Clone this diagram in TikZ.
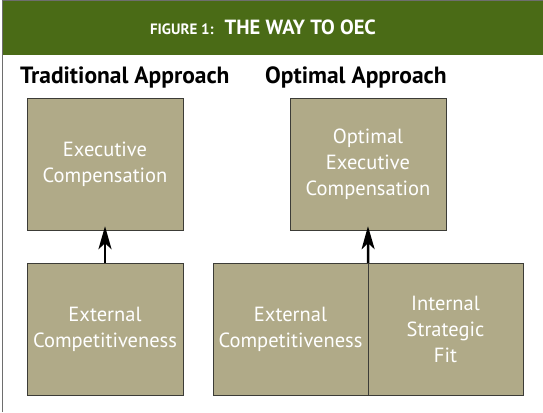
\documentclass[tikz,border=0pt]{standalone}
\usepackage{xcolor}
\usepackage{fontspec}
\setmainfont{PT Sans}
\usetikzlibrary{arrows.meta,positioning}
\definecolor{headgreen}{RGB}{74,107,22}
\definecolor{khaki}{RGB}{176,170,136}
\definecolor{boxline}{RGB}{60,60,55}
\definecolor{frameline}{RGB}{110,110,110}

\begin{document}
\begin{tikzpicture}[x=1pt,y=-1pt]
\tikzstyle{box} = [draw=boxline, fill=khaki, text=white, align=center, inner sep=0pt,
	minimum width=156pt, minimum height=132pt, font=\fontsize{20.5}{26}\selectfont]
\tikzstyle{half} = [box, minimum width=155pt]
\tikzstyle{heading} = [anchor=west, inner sep=0pt, font=\fontsize{23.5}{28}\selectfont\bfseries]
\tikzstyle{rise} = [-{Stealth[length=23pt,width=13pt,inset=6pt]}, line width=2.5pt, shorten >=-4pt]
\useasboundingbox (0,0) rectangle (543,412);
% frame and header band
\fill[headgreen] (3,1) rectangle (543,55);
\draw[frameline, line width=0.8pt] (2.5,412) -- (2.5,0.5) -- (543,0.5);
\node[text=white, inner sep=0pt] (title) at (263,27)
	{{\fontsize{15}{18}\selectfont\bfseries FIGURE 1:}\hspace{11pt}{\fontsize{20.5}{24}\selectfont\bfseries THE WAY TO OEC}};

% traditional approach
\node[heading] (trad) at (20,77) {Traditional Approach};
\node[box] (exec1) at (105,164) {Executive\\Compensation};
\node[box] (ext1) at (105,329) {External\\Competitiveness};
\draw[rise] (ext1) -- (exec1);

% optimal approach
\node[heading] (opt) at (265,77) {Optimal Approach};
\node[box] (exec2) at (368,164) {Optimal\\Executive\\Compensation};
\node[half] (ext2) at (290.5,329) {External\\Competitiveness};
\node[half] (int2) at (445.5,329) {Internal\\Strategic\\Fit};
\draw[rise] (ext2.north east) -- (exec2.south);
\end{tikzpicture}
\end{document}
